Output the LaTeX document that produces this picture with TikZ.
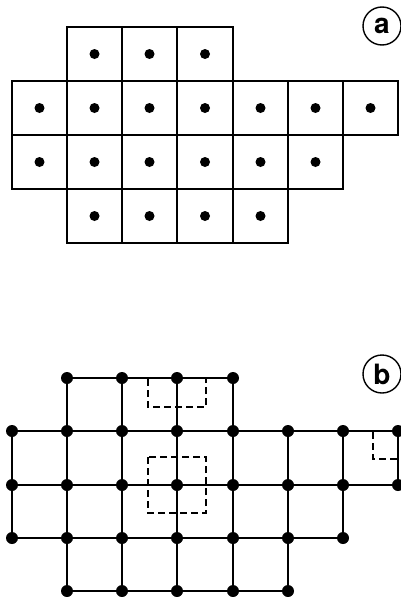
\documentclass[tikz,border=0pt]{standalone}
\usepackage{fontspec}
\setsansfont{TeX Gyre Heros}
\begin{document}
\begin{tikzpicture}[x=1pt,y=-1pt,
  cell/.style={draw,rectangle,inner sep=0pt,line width=2pt},
  adot/.style={circle,fill=black,inner sep=0pt,minimum size=10pt},
  bdot/.style={circle,fill=black,inner sep=0pt,minimum size=12pt},
  edge/.style={line width=2pt},
  wsc/.style={dash pattern=on 7pt off 4pt,line width=1.4pt},
  lbl/.style={draw,circle,line width=1.4pt,minimum size=38pt,inner sep=0pt,font=\sffamily\bfseries\fontsize{28}{28}\selectfont}]
\useasboundingbox (0,0) rectangle (400,597);
\def\xs{{12,67,122,177,233,288,343,398}}
\def\ya{{27,81,135,189,243}}
\def\yb{{378,431,485,538,591}}
% ---- (a) ----
\foreach \r/\a/\b in {0/1/3,1/0/6,2/0/5,3/1/4}{
  \foreach \c in {\a,...,\b}{
    \pgfmathsetmacro{\xl}{\xs[\c]}
    \pgfmathsetmacro{\xr}{\xs[\c+1]}
    \pgfmathsetmacro{\yt}{\ya[\r]}
    \pgfmathsetmacro{\yu}{\ya[\r+1]}
    \node[cell,minimum width={(\xr-\xl)*1pt},minimum height={(\yu-\yt)*1pt}]
      (a-\r-\c) at ({(\xl+\xr)/2},{(\yt+\yu)/2}) {};
    \node[adot] (ad-\r-\c) at (a-\r-\c) {};
  }
}
\node[lbl] (la) at (382,26) {a};
% ---- (b) ----
\foreach \k/\a/\b in {0/1/4,1/0/7,2/0/7,3/0/6,4/1/5}{
  \foreach \i in {\a,...,\b}{
    \pgfmathsetmacro{\px}{\xs[\i]}
    \pgfmathsetmacro{\py}{\yb[\k]}
    \coordinate (b-\k-\i) at (\px,\py);
  }
}
% horizontal edges
\foreach \k/\a/\b in {0/1/4,1/0/7,2/0/7,3/0/6,4/1/5}{
  \pgfmathtruncatemacro{\bb}{\b-1}
  \foreach \i in {\a,...,\bb}{
    \pgfmathtruncatemacro{\j}{\i+1}
    \draw[edge] (b-\k-\i) -- (b-\k-\j);
  }
}
% vertical edges
\foreach \k/\a/\b in {0/1/4,1/0/7,2/0/6,3/1/5}{
  \pgfmathtruncatemacro{\kk}{\k+1}
  \foreach \i in {\a,...,\b}{
    \draw[edge] (b-\k-\i) -- (b-\kk-\i);
  }
}
% dots
\foreach \k/\a/\b in {0/1/4,1/0/7,2/0/7,3/0/6,4/1/5}{
  \foreach \i in {\a,...,\b}{
    \node[bdot] (bd-\k-\i) at (b-\k-\i) {};
  }
}
% dashed cells
\draw[wsc] (148,379) -- (148,407) -- (206,407) -- (206,379);
\draw[wsc] (148,457) rectangle (206,513);
\draw[wsc] (373,432) -- (373,459) -- (398,459);
\node[lbl] (lb) at (382,374) {b};
\end{tikzpicture}
\end{document}
